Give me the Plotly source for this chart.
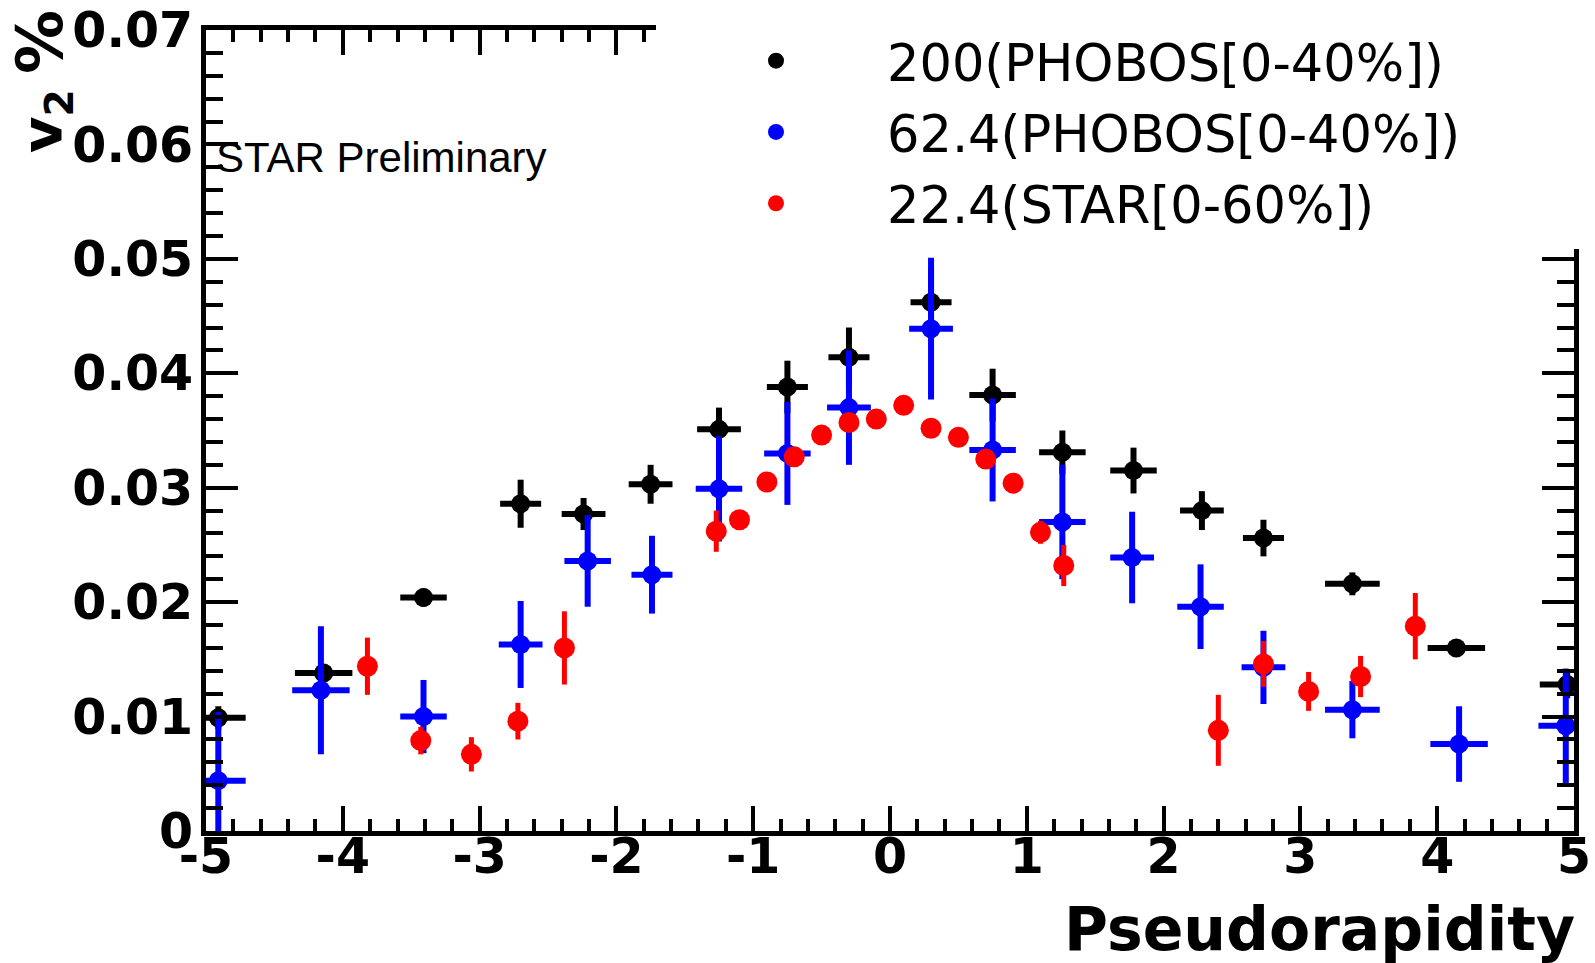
import plotly.graph_objects as go

# ---------------- data ----------------
eta_200 = [-4.91, -4.14, -3.41, -2.70, -2.24, -1.75, -1.25, -0.75, -0.30, 0.30,
           0.75, 1.26, 1.78, 2.28, 2.73, 3.38, 4.14, 4.95]
v2_200 = [0.0099, 0.0138, 0.0204, 0.0286, 0.0277, 0.0303, 0.0351, 0.0388, 0.0414, 0.0462,
          0.0381, 0.0331, 0.0315, 0.0280, 0.0256, 0.0216, 0.0160, 0.0128]
ey_200 = [0.0010, 0.0008, 0.0008, 0.0021, 0.0014, 0.0017, 0.0019, 0.0023, 0.0026, 0.0030,
          0.0023, 0.0019, 0.0020, 0.0017, 0.0016, 0.0010, 0.0007, 0.0012]
ex_200 = [0.20, 0.21, 0.17, 0.15, 0.16, 0.16, 0.16, 0.15, 0.15, 0.15,
          0.17, 0.17, 0.17, 0.16, 0.15, 0.20, 0.21, 0.20]

eta_624 = [-4.91, -4.16, -3.41, -2.70, -2.21, -1.74, -1.25, -0.75, -0.30, 0.30,
           0.75, 1.26, 1.77, 2.27, 2.73, 3.38, 4.16, 4.94]
v2_624 = [0.0044, 0.0123, 0.0100, 0.0163, 0.0236, 0.0224, 0.0299, 0.0330, 0.0370, 0.0439,
          0.0333, 0.0270, 0.0239, 0.0196, 0.0143, 0.0106, 0.0076, 0.0092]
ey_624 = [0.0060, 0.0056, 0.0032, 0.0038, 0.0040, 0.0034, 0.0046, 0.0045, 0.0050, 0.0062,
          0.0045, 0.0050, 0.0040, 0.0037, 0.0032, 0.0025, 0.0033, 0.0050]
ex_624 = [0.20, 0.21, 0.17, 0.16, 0.17, 0.15, 0.17, 0.17, 0.16, 0.16,
          0.17, 0.17, 0.16, 0.17, 0.16, 0.20, 0.21, 0.20]

eta_224 = [-3.82, -3.43, -3.06, -2.72, -2.38, -1.27, -1.10, -0.90, -0.70, -0.50, -0.30, -0.10,
           0.10, 0.30, 0.50, 0.70, 0.90, 1.10, 1.27, 2.40, 2.73, 3.06, 3.44, 3.84]
v2_224 = [0.0144, 0.0079, 0.0067, 0.0096, 0.0160, 0.0262, 0.0272, 0.0305, 0.0327, 0.0346, 0.0357, 0.0360,
          0.0372, 0.0352, 0.0344, 0.0325, 0.0304, 0.0261, 0.0232, 0.0088, 0.0146, 0.0122, 0.0135, 0.0179]
ey_224 = [0.0025, 0.0012, 0.0015, 0.0016, 0.0032, 0.0018, 0.0008, 0.0005, 0.0005, 0.0004, 0.0004, 0.0004,
          0.0004, 0.0004, 0.0004, 0.0005, 0.0005, 0.0010, 0.0018, 0.0031, 0.0020, 0.0017, 0.0018, 0.0029]

names = ["200(PHOBOS[0-40%])", "62.4(PHOBOS[0-40%])", "22.4(STAR[0-60%])"]

x_tickvals = [-5, -4, -3, -2, -1, 0, 1, 2, 3, 4, 5]
x_ticktext = ["-5", "-4", "-3", "-2", "-1", "0", "1", "2", "3", "4", "5"]
y_tickvals = [0, 0.01, 0.02, 0.03, 0.04, 0.05, 0.06, 0.07]
y_ticktext = ["0", "0.01", "0.02", "0.03", "0.04", "0.05", "0.06", "0.07"]

# ---------------- layout geometry ----------------
W, H = 1595, 963
ML, MR, MT, MB = 206, 21, 30, 132
PW, PH = W - ML - MR, H - MT - MB


def px(xp):
    return (xp - ML) / PW


def py(yp):
    return (H - MB - yp) / PH


fig = go.Figure()

fig.add_trace(go.Scatter(
    x=eta_200, y=v2_200, mode="markers", name=names[0], legendgroup="g200",
    marker=dict(color="black", size=19, symbol="circle"),
    error_y=dict(type="data", array=ey_200, color="black", thickness=6, width=0),
    error_x=dict(type="data", array=ex_200, color="black", thickness=6, width=0),
))
fig.add_trace(go.Scatter(
    x=eta_624, y=v2_624, mode="markers", name=names[1], legendgroup="g624",
    marker=dict(color="#0000ff", size=19, symbol="circle"),
    error_y=dict(type="data", array=ey_624, color="#0000ff", thickness=6, width=0),
    error_x=dict(type="data", array=ex_624, color="#0000ff", thickness=6, width=0),
))
fig.add_trace(go.Scatter(
    x=eta_224, y=v2_224, mode="markers", name=names[2], legendgroup="g224",
    marker=dict(color="#ff0000", size=21, symbol="circle"),
    error_y=dict(type="data", array=ey_224, color="#ff0000", thickness=5, width=0),
))

tickfont = dict(family="DejaVu Sans", size=49, color="black", weight="bold")

fig.update_xaxes(
    range=[-5, 5], tickmode="array", tickvals=x_tickvals, ticktext=x_ticktext,
    ticks="inside", ticklen=25, tickwidth=4, tickcolor="black",
    minor=dict(dtick=0.2, ticks="inside", ticklen=12, tickwidth=4, tickcolor="black"),
    showline=True, linewidth=5, linecolor="black", mirror="allticks",
    showgrid=False, zeroline=False, tickfont=tickfont, ticklabelstandoff=-22,
    automargin=False,
)
fig.update_yaxes(
    range=[0, 0.07], tickmode="array", tickvals=y_tickvals, ticktext=y_ticktext,
    ticks="inside", ticklen=32, tickwidth=4, tickcolor="black",
    minor=dict(dtick=0.002, ticks="inside", ticklen=17, tickwidth=4, tickcolor="black"),
    showline=True, linewidth=5, linecolor="black", mirror="allticks",
    showgrid=False, zeroline=False, tickfont=tickfont, ticklabelstandoff=-2,
    automargin=False,
)

# white legend pad covering part of the frame (as in the ROOT canvas)
fig.add_shape(type="rect", xref="paper", yref="paper",
              x0=px(656), x1=1.2, y0=py(249), y1=1.2,
              fillcolor="white", line=dict(width=0), layer="above")

fig.update_layout(
    width=W, height=H,
    margin=dict(l=ML, r=MR, t=MT, b=MB, pad=0, autoexpand=False),
    paper_bgcolor="white", plot_bgcolor="white",
    showlegend=True,
    legend=dict(
        x=px(665), y=py(21), xanchor="left", yanchor="top",
        bgcolor="rgba(0,0,0,0)", borderwidth=0,
        font=dict(family="DejaVu Sans", size=51, color="black"),
        itemwidth=212, tracegroupgap=2,
    ),
    annotations=[
        dict(text="STAR Preliminary", xref="paper", yref="paper",
             x=px(214), y=py(157), xanchor="left", yanchor="middle", showarrow=False,
             font=dict(family="Liberation Sans", size=42, color="black")),
        dict(text="Pseudorapidity", xref="paper", yref="paper",
             x=px(1577), y=py(966), xanchor="right", yanchor="bottom", showarrow=False,
             font=dict(family="DejaVu Sans", size=60, color="black", weight="bold")),
        dict(text="v<sub>2</sub>", xref="paper", yref="paper", textangle=-90,
             x=px(45), y=py(121), xanchor="center", yanchor="middle", showarrow=False,
             font=dict(family="DejaVu Sans", size=56, color="black", weight="bold")),
        dict(text="%", xref="paper", yref="paper", textangle=-90,
             x=px(40), y=py(42), xanchor="center", yanchor="middle", showarrow=False,
             font=dict(family="DejaVu Sans", size=64, color="black", weight="bold")),
    ],
)

fig.write_html("out.html")
